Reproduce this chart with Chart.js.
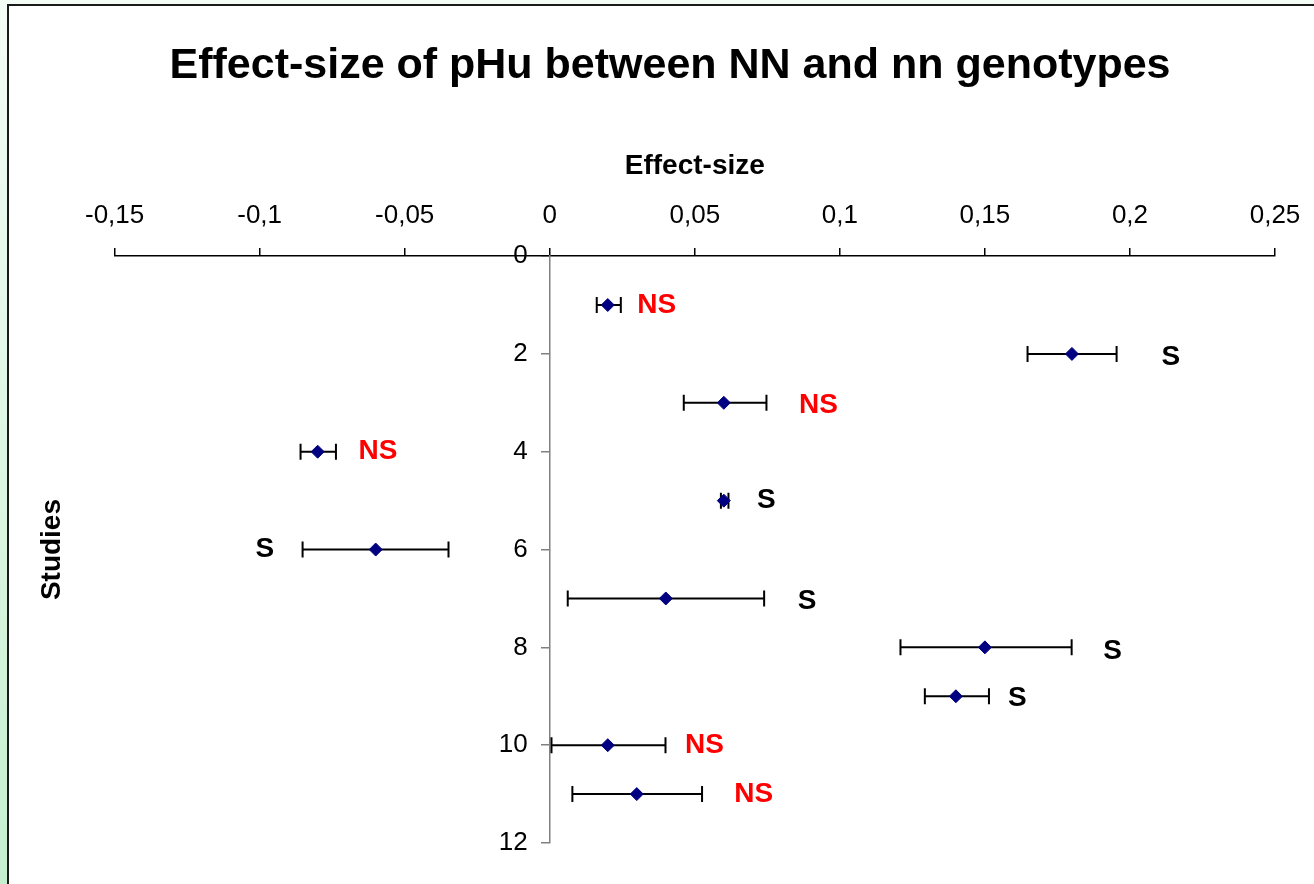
<!DOCTYPE html>
<html>
<head>
<meta charset="utf-8">
<title>Effect-size of pHu between NN and nn genotypes</title>
<script src="https://cdn.jsdelivr.net/npm/chart.js@4/dist/chart.umd.min.js"></script>
<style>
    html, body {
        margin: 0;
        padding: 0;
        width: 1314px;
        height: 884px;
        overflow: hidden;
        background: linear-gradient(to bottom, #f4fcf6 0%, #d9f5e0 60%, #c4efcf 100%);
    }
    #frame {
        position: absolute;
        left: 7px;
        top: 4px;
        width: 1320px;
        height: 900px;
        background: #fff;
        border-left: 2px solid #1a1a1a;
        border-top: 2px solid #1a1a1a;
    }
    #wrap {
        position: absolute;
        left: 0;
        top: 0;
        width: 1314px;
        height: 884px;
    }
</style>
</head>
<body>
<div id="frame"></div>
<div id="wrap"><canvas id="forest"></canvas></div>
<script>
// study number, effect-size and its interval
const studies = [1, 2, 3, 4, 5, 6, 7, 8, 9, 10, 11];
const effect = [0.02, 0.18, 0.06, -0.08, 0.06, -0.06, 0.04, 0.15, 0.14, 0.02, 0.03];
const lower = [0.0162, 0.1647, 0.0462, -0.0859, 0.059, -0.0852, 0.0062, 0.1209, 0.1293, 0.0006, 0.0078];
const upper = [0.0245, 0.1954, 0.0747, -0.0737, 0.0616, -0.0349, 0.0739, 0.1799, 0.1514, 0.0399, 0.0525];

// significance notes and where they sit (data units)
const signif = ['NS', 'S', 'NS', 'NS', 'S', 'S', 'S', 'S', 'S', 'NS', 'NS'];
const labelX = [0.0302, 0.2109, 0.0859, -0.0659, 0.0714, -0.1014, 0.0855, 0.1908, 0.158, 0.0466, 0.0636];
const labelY = [1, 2.07, 3.06, 4, 5, 6, 7.06, 8.08, 9.05, 10, 11];

const xMin = -0.15, xMax = 0.25, xStep = 0.05;
const yMin = 0, yMax = 12, yStep = 2;

const FONT = "'Liberation Sans', Arial, Helvetica, sans-serif";

const fmtComma = v => String(Math.round(v * 100) / 100).replace('.', ',');

// horizontal interval bars with end caps, under the diamonds
const errorBars = {
    id: 'errorBars',
    beforeDatasetsDraw(chart) {
        const { ctx, scales: { x, y } } = chart;
        ctx.save();
        ctx.strokeStyle = '#000';
        ctx.lineWidth = 2;
        studies.forEach((s, i) => {
            const yp = y.getPixelForValue(s);
            const x1 = x.getPixelForValue(lower[i]);
            const x2 = x.getPixelForValue(upper[i]);
            ctx.beginPath();
            ctx.moveTo(x1, yp);
            ctx.lineTo(x2, yp);
            ctx.moveTo(x1, yp - 8);
            ctx.lineTo(x1, yp + 8);
            ctx.moveTo(x2, yp - 8);
            ctx.lineTo(x2, yp + 8);
            ctx.stroke();
        });
        ctx.restore();
    }
};

// S / NS notes
const sigLabels = {
    id: 'sigLabels',
    afterDatasetsDraw(chart) {
        const { ctx, scales: { x, y } } = chart;
        ctx.save();
        ctx.font = `bold 28px ${FONT}`;
        ctx.textAlign = 'left';
        ctx.textBaseline = 'middle';
        signif.forEach((t, i) => {
            ctx.fillStyle = t === 'NS' ? '#ff0000' : '#000';
            ctx.fillText(t, x.getPixelForValue(labelX[i]), y.getPixelForValue(labelY[i]));
        });
        ctx.restore();
    }
};

// the y axis sits at x = 0, where chart.js ignores tick padding, so its labels are put here
const studyTicks = {
    id: 'studyTicks',
    afterDraw(chart) {
        const { ctx, scales: { x, y } } = chart;
        const ax = x.getPixelForValue(0) - 8 - 14;
        ctx.save();
        ctx.font = `26px ${FONT}`;
        ctx.fillStyle = '#000';
        ctx.textAlign = 'right';
        ctx.textBaseline = 'middle';
        y.ticks.forEach(t => {
            ctx.fillText(fmtComma(t.value), ax, y.getPixelForValue(t.value));
        });
        ctx.restore();
    }
};

const canvas = document.getElementById('forest');
canvas.width = 1314;
canvas.height = 884;

new Chart(canvas, {
    type: 'scatter',
    data: {
        datasets: [{
            data: studies.map((s, i) => ({ x: effect[i], y: s })),
            pointStyle: 'rectRot',
            pointRadius: 6.5,
            backgroundColor: '#000080',
            borderColor: '#000080',
            borderWidth: 1,
            showLine: false
        }]
    },
    options: {
        responsive: false,
        animation: false,
        layout: {
            padding: { top: 0, left: 62, right: 36, bottom: 41 }
        },
        plugins: {
            legend: { display: false },
            tooltip: { enabled: false },
            title: {
                display: true,
                text: 'Effect-size of pHu between NN and nn genotypes',
                color: '#000',
                font: { family: FONT, size: 43, weight: 'bold' },
                padding: { top: 40, bottom: 54 }
            }
        },
        scales: {
            x: {
                type: 'linear',
                position: 'top',
                min: xMin,
                max: xMax,
                grid: {
                    drawOnChartArea: false,
                    tickLength: 8,
                    color: '#000',
                    lineWidth: 1.5
                },
                border: { color: '#000', width: 1.5 },
                ticks: {
                    stepSize: xStep,
                    color: '#000',
                    padding: 13.7,
                    font: { family: FONT, size: 26, lineHeight: 1.4538 },
                    callback: fmtComma
                },
                title: {
                    display: true,
                    text: 'Effect-size',
                    color: '#000',
                    font: { family: FONT, size: 28, weight: 'bold' },
                    padding: { top: 4, bottom: -0.3 }
                }
            },
            y: {
                type: 'linear',
                position: { x: 0 },
                reverse: true,
                min: yMin,
                max: yMax,
                grid: {
                    drawOnChartArea: false,
                    tickLength: 8,
                    color: '#808080',
                    lineWidth: 1.5
                },
                border: { color: '#808080', width: 1.5 },
                ticks: {
                    stepSize: yStep,
                    display: false
                }
            },
            studiesAxis: {
                type: 'linear',
                axis: 'y',
                position: 'left',
                grid: { display: false, drawTicks: false },
                border: { display: false },
                ticks: { display: false },
                title: {
                    display: true,
                    text: 'Studies',
                    color: '#000',
                    font: { family: FONT, size: 28, weight: 'bold' },
                    padding: { top: -27, bottom: 46 }
                }
            }
        }
    },
    plugins: [errorBars, sigLabels, studyTicks]
});
</script>
</body>
</html>
